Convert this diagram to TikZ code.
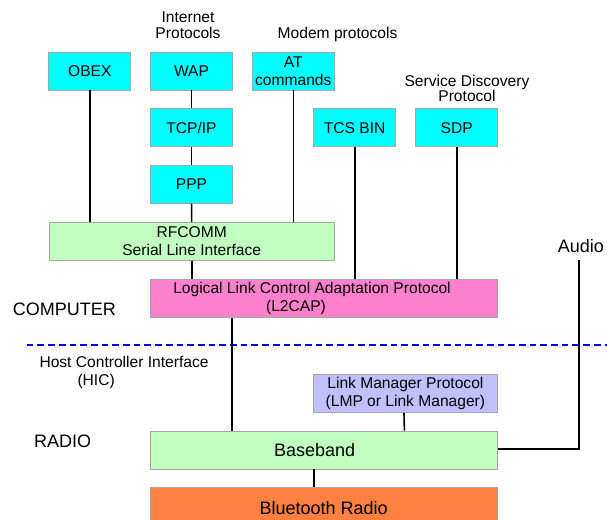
\documentclass[tikz,border=0pt]{standalone}
\usepackage{fontspec}
\setmainfont{Liberation Sans}
\usetikzlibrary{calc}

\definecolor{boxcyan}{RGB}{0,255,255}
\definecolor{boxgreen}{RGB}{192,255,192}
\definecolor{boxpink}{RGB}{255,128,204}
\definecolor{boxlav}{RGB}{192,192,255}
\definecolor{boxorange}{RGB}{255,128,64}

\tikzset{
  layer/.style={draw=gray!70, line width=0.8pt, rectangle, inner sep=0, align=center, minimum height=38, font=\fontsize{15.6}{17.5}\selectfont},
  small/.style={layer, minimum width=82, fill=boxcyan},
  wide/.style={layer, minimum width=347},
  lbl/.style={inner sep=0, align=center, font=\fontsize{15.6}{16.5}\selectfont},
  big/.style={font=\fontsize{18}{20}\selectfont},
  link/.style={line width=1.6pt}
}

\begin{document}
\begin{tikzpicture}[x=1pt, y=-1pt]
\useasboundingbox (0,0) rectangle (607,519);

% Upper protocol boxes
\node[small] (OBEX) at (89.8,71) {OBEX};
\node[small] (WAP) at (191.5,71) {WAP};
\node[small] (AT) at (293.3,71) {AT\\commands};
\node[small] (TCPIP) at (191.5,127.7) {TCP/IP};
\node[small] (PPP) at (191.5,184.2) {PPP};
\node[small] (TCS) at (354.7,127.7) {TCS BIN};
\node[small] (SDP) at (456.7,127.7) {SDP};

% Group labels
\node[lbl] (inet) at (188,25) {Internet\\Protocols};
\node[lbl, anchor=base] (modem) at (337.5,39) {Modem protocols};
\node[lbl, text depth=0pt, font=\fontsize{15.6}{15}\selectfont] (sdplbl) at (467,88.5) {Service Discovery\\Protocol};

% RFCOMM and L2CAP
\node[layer, minimum width=285, fill=boxgreen] (RFCOMM) at (191.7,241.2) {RFCOMM\\Serial Line Interface};
\node[wide, fill=boxpink] (L2CAP) at (323.7,298.5) {\hspace*{-23.4pt}Logical Link Control Adaptation Protocol\\\hspace*{-55.4pt}(L2CAP)};

% Host / controller split
\node[lbl, big, anchor=base west] (computer) at (12.7,315) {COMPUTER};
\draw[blue, line width=1.6pt, dash pattern=on 6.7pt off 4pt] (26.7,345) -- (607,345);
\node[lbl, anchor=base west] (hci) at (39.3,367.7) {Host Controller Interface};
\node[lbl, anchor=base west] (hic) at (77.3,385) {(HIC)};
\node[lbl, big, anchor=base west] (radio) at (34,447.3) {RADIO};

% Lower layers
\node[layer, minimum width=184, fill=boxlav] (LMP) at (405.4,393.5) {Link Manager Protocol\\(LMP or Link Manager)};
\node[wide, big, fill=boxgreen] (BB) at (323.7,450) {\hspace*{-18pt}Baseband};
\node[wide, big, fill=boxorange, minimum height=40] (BR) at (323.7,507.7) {Bluetooth Radio};

% Audio path
\node[lbl, big, anchor=base] (audio) at (580.8,252.7) {Audio};
\coordinate (atop) at (578.7,260);
\coordinate (abot) at (578.7,449);

% Connections
\draw[link] (OBEX.south) -- (OBEX.south |- RFCOMM.north);
\draw[link] (WAP) -- (TCPIP);
\draw[link] (TCPIP) -- (PPP);
\draw[link] (PPP) -- (RFCOMM);
\draw[link] (AT.south) -- (AT.south |- RFCOMM.north);
\draw[link] (TCS.south) -- (TCS.south |- L2CAP.north);
\draw[link] (SDP.south) -- (SDP.south |- L2CAP.north);
\draw[link] (RFCOMM.south) -- (RFCOMM.south |- L2CAP.north);
\draw[link] ($(L2CAP.south west)+(82.3,0)$) -- ($(BB.north west)+(82.3,0)$);
\draw[link] ($(LMP.south west)+(91,0)$) -- ($(BB.north west)+(254.6,0)$);
\draw[link] ($(BB.south west)+(164,0)$) -- ($(BR.north west)+(164,0)$);
\draw[link] (atop) -- (abot) -- (abot -| BB.east);

\end{tikzpicture}
\end{document}
